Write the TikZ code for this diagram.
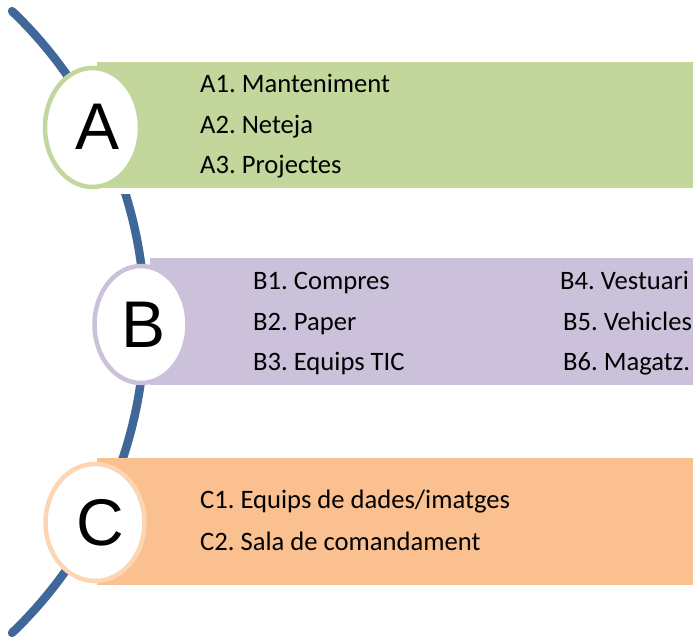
\documentclass[tikz,border=0pt]{standalone}
\usepackage{fontspec}
\setmainfont{Carlito}
\newfontfamily\letterfont{Liberation Sans}
\definecolor{arcblue}{HTML}{3F6797}
\definecolor{bandA}{HTML}{C3D69B}
\definecolor{bandB}{HTML}{CCC1DA}
\definecolor{bandC}{HTML}{FAC090}
\definecolor{ringC}{HTML}{FCD5B4}
\begin{document}
\frenchspacing
\begin{tikzpicture}[x=1pt,y=-1pt,
  bigletter/.style={font=\letterfont\fontsize{66}{70}\selectfont, inner sep=0pt},
  item/.style={font=\frenchspacing\fontsize{26.6}{30}\selectfont, anchor=base west, inner sep=0pt}]
\useasboundingbox (0,0) rectangle (693,640);
% arc
\draw[arcblue, line width=8.5pt, line cap=round]
  plot[domain=-46.3:46.3, samples=80, smooth] ({-285+430*cos(\x)},{322+430*sin(\x)});
% white gap below band A
\fill[white] (97,188) rectangle (160,194);
% bands
\fill[bandA] (97,62) rectangle (693,188);
\fill[bandB] (150,258) rectangle (693,385);
\fill[bandC] (97,458) rectangle (693,585);
% circles
\draw[bandA, fill=white, line width=4.5pt] (92.5,127.5) ellipse [x radius=47.5, y radius=59.5];
\draw[bandB, fill=white, line width=4.5pt] (141,324.5) ellipse [x radius=46.5, y radius=58.5];
\draw[ringC, fill=white, line width=4.5pt] (95,522.5) ellipse [x radius=49.5, y radius=58.5];
% letters
\node[bigletter] (la) at (98,126.5) {A};
\node[bigletter] (lb) at (144,325) {B};
\node[bigletter] (lc) at (100,523) {C};
% items
\node[item] (a1) at (200,92.5) {A1. Manteniment};
\node[item] (a2) at (200,133.5) {A2. Neteja};
\node[item] (a3) at (200,173.5) {A3. Projectes};
\node[item] (b1) at (253,289.5) {B1. Compres};
\node[item] (b2) at (253,330.5) {B2. Paper};
\node[item] (b3) at (253,370.5) {B3. Equips TIC};
\node[item] (b4) at (560,289.5) {B4. Vestuari};
\node[item] (b5) at (563,330.5) {B5. Vehicles};
\node[item] (b6) at (563,370.5) {B6. Magatz.};
\node[item] (c1) at (200,508.5) {C1. Equips de dades/imatges};
\node[item] (c2) at (200,550.5) {C2. Sala de comandament};
\end{tikzpicture}
\end{document}
